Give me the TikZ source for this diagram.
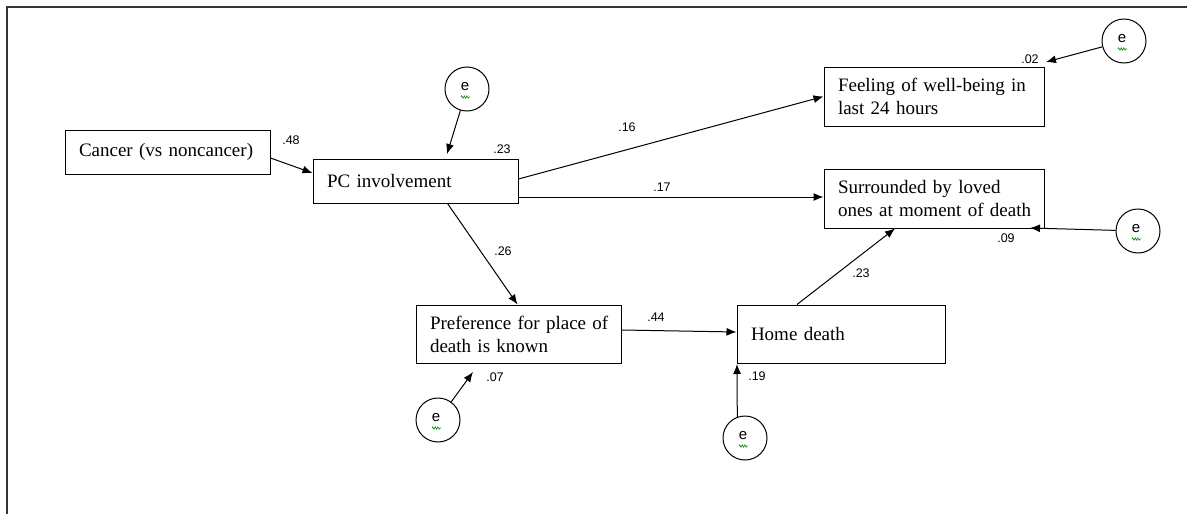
\documentclass[tikz,border=0pt]{standalone}
\usepackage{fontspec}
\setmainfont{Liberation Serif}
\newfontfamily\lblfont{Liberation Sans}
\usetikzlibrary{arrows.meta,decorations.pathmorphing}
\begin{document}
\begin{tikzpicture}[x=1pt,y=-1pt,
  box/.style={draw,line width=1pt,inner xsep=14pt,inner ysep=0pt,align=left,
    font=\fontsize{19}{23}\selectfont},
  err/.style={draw,circle,line width=1pt,minimum size=44pt,inner sep=0pt},
  arr/.style={line width=1pt,-{Latex[length=10pt,width=8pt]}},
  lbl/.style={font=\lblfont\fontsize{12.5}{14}\selectfont,inner sep=0pt},
  squig/.style={draw=green!55!black,line width=0.6pt,decorate,
    decoration={zigzag,amplitude=1.2pt,segment length=2.6pt}}]
\useasboundingbox (0,0) rectangle (1187,514);
% frame
\coordinate (fA) at (7,514);
\coordinate (fB) at (7,7);
\coordinate (fC) at (1187,7);
\draw[line width=1.3pt,black!80] (fA) -- (fB) -- (fC);
% boxes
\node[box,minimum height=44pt,text width=177pt] (cancer) at (167.5,152) {\mbox{Cancer (vs noncancer)}};
\node[box,minimum height=44pt,text width=177pt] (pc) at (415.5,181) {PC involvement};
\node[box,minimum height=58pt,text width=177pt] (pref) at (518.5,334) {\mbox{Preference for place of}\\\mbox{death is known}};
\node[box,minimum height=58pt,text width=180pt] (home) at (841,334) {Home death};
\node[box,minimum height=59pt,text width=192pt] (feel) at (934,96.5) {\mbox{Feeling of well-being in}\\\mbox{last 24 hours}};
\node[box,minimum height=59pt,text width=192pt] (surr) at (934,198.5) {\mbox{Surrounded by loved}\\\mbox{ones at moment of death}};
% error circles
\foreach \n/\x/\y in {e1/467/89, e2/438/420, e3/745/438, e4/1124/41, e5/1138/231}{
  \node[err] (\n) at (\x,\y) {};
  \node[lbl,font=\lblfont\fontsize{15}{16}\selectfont] (\n t) at (\x-2,\y-2) {e};
  \draw[squig] (\x-6,\y+8) -- (\x+3,\y+8);
}
% tips of error arrows
\coordinate (t1) at (447,154);
\coordinate (t2) at (473,372);
\coordinate (t3) at (737,364);
\coordinate (t4) at (1046,62);
\coordinate (t5) at (1030,228);
\draw[arr] (e1) -- (t1);
\draw[arr] (e2) -- (t2);
\draw[arr] (e3.110) -- (t3);
\draw[arr] (e4) -- (t4);
\draw[arr] (e5) -- (t5);
% paths
\draw[arr] ([yshift=-6pt]cancer.east) -- ([yshift=8pt]pc.west);
\draw[arr] ([yshift=2pt]pc.east) -- (feel.west);
\draw[arr] ([yshift=-16pt]pc.east) -- ([yshift=-16pt]pc.east -| surr.west);
\draw[arr] ([xshift=32pt]pc.south) -- ([xshift=-1pt]pref.north);
\draw[arr] ([yshift=4pt]pref.east) -- ([yshift=2pt]home.west);
\draw[arr] ([xshift=-44pt]home.north) -- ([xshift=-39pt]surr.south);
% coefficients
\node[lbl] (l48) at (291,140) {.48};
\node[lbl] (l23a) at (502,149) {.23};
\node[lbl] (l16) at (627,127) {.16};
\node[lbl] (l17) at (662,187) {.17};
\node[lbl] (l26) at (503,251) {.26};
\node[lbl] (l44) at (656,317) {.44};
\node[lbl] (l07) at (495,377) {.07};
\node[lbl] (l19) at (757,376) {.19};
\node[lbl] (l23b) at (861,273) {.23};
\node[lbl] (l02) at (1030,59) {.02};
\node[lbl] (l09) at (1006,238) {.09};
\end{tikzpicture}
\end{document}
